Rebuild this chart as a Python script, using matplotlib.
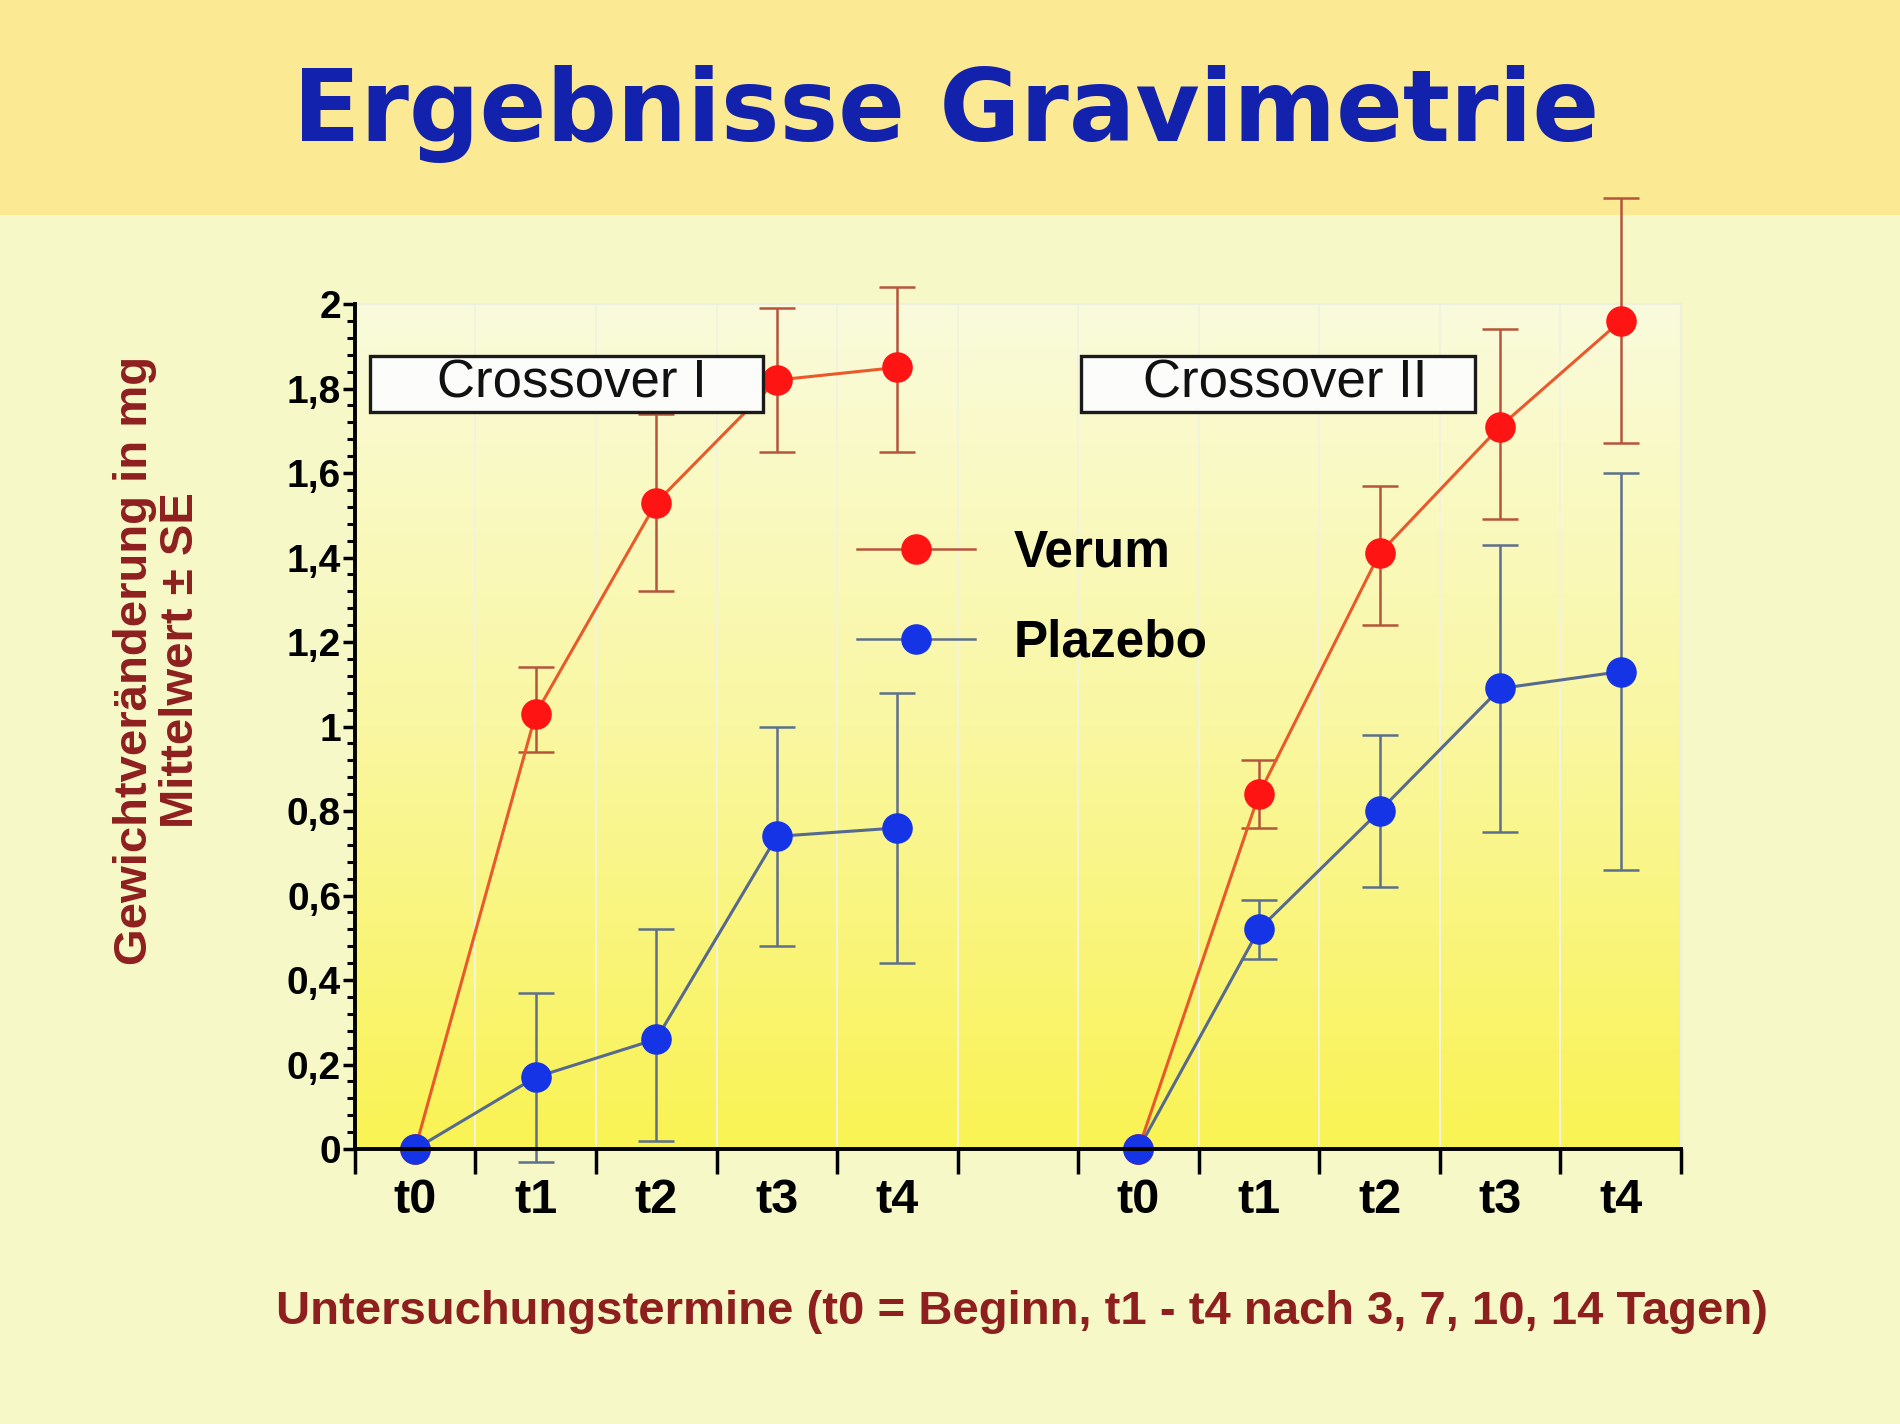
# Ergebnisse Gravimetrie - Crossover I / II
import numpy as np
import matplotlib.pyplot as plt
from matplotlib.colors import LinearSegmentedColormap
from matplotlib.lines import Line2D
from matplotlib.patches import Rectangle
from matplotlib.ticker import FixedLocator, FuncFormatter, MultipleLocator

plt.rcParams['font.family'] = ['Liberation Sans', 'DejaVu Sans']

##### Data #####
time_labels = ['t0', 't1', 't2', 't3', 't4']
pos_cross1 = np.arange(5)
pos_cross2 = np.arange(6, 11)

# Crossover I
verum1_mean = [0, 1.03, 1.53, 1.82, 1.85]
verum1_low = [0, 0.94, 1.32, 1.65, 1.65]
verum1_high = [0, 1.14, 1.74, 1.99, 2.04]
plazebo1_mean = [0, 0.17, 0.26, 0.74, 0.76]
plazebo1_low = [0, -0.03, 0.02, 0.48, 0.44]
plazebo1_high = [0, 0.37, 0.52, 1.00, 1.08]

# Crossover II
verum2_mean = [0, 0.84, 1.41, 1.71, 1.96]
verum2_low = [0, 0.76, 1.24, 1.49, 1.67]
verum2_high = [0, 0.92, 1.57, 1.94, 2.25]
plazebo2_mean = [0, 0.52, 0.80, 1.09, 1.13]
plazebo2_low = [0, 0.45, 0.62, 0.75, 0.66]
plazebo2_high = [0, 0.59, 0.98, 1.43, 1.60]

##### Styles #####
verum_line = '#e85a2c'
verum_err = '#b4553c'
verum_dot = '#ff1414'
plaz_line = '#56698e'
plaz_err = '#5d6f8c'
plaz_dot = '#1434e6'
label_red = '#8e1f1f'

fig = plt.figure(figsize=(19, 14.24), dpi=100)
fig.patch.set_facecolor('#f7f8c8')
fig.patches.append(Rectangle((0, 0.849), 1, 0.151, transform=fig.transFigure,
                             facecolor='#fbe993', edgecolor='none', zorder=-5))

fig.text(0.498, 0.920, 'Ergebnisse Gravimetrie', ha='center', va='center',
         fontsize=71, fontweight='bold', color='#1222ad', family='DejaVu Sans')

ax = fig.add_axes([0.1868, 0.1931, 0.6979, 0.5934])
ax.set_xlim(-0.5, 10.5)
ax.set_ylim(0, 2)

# gradient background, pale top -> yellow bottom
cmap = LinearSegmentedColormap.from_list('bg', ['#f9f353', '#f9f7a2', '#fafbdc'])
grad = np.linspace(0, 1, 256).reshape(-1, 1)
ax.imshow(grad, extent=[-0.5, 10.5, 0, 2], origin='lower', aspect='auto',
          cmap=cmap, zorder=0)


def draw(pos, mean, low, high, line_c, err_c, dot_c):
    mean = np.array(mean)
    yerr = [mean - np.array(low), np.array(high) - mean]
    eb = ax.errorbar(pos, mean, yerr=yerr, fmt='none', ecolor=err_c, elinewidth=1.8,
                     capsize=13, capthick=1.8, zorder=3)
    for art in list(eb.lines[1]) + list(eb.lines[2]):
        art.set_clip_on(False)
    ax.plot(pos, mean, color=line_c, lw=2.2, zorder=4, clip_on=False)
    ax.plot(pos, mean, 'o', color=dot_c, markersize=21, markeredgecolor=dot_c,
            zorder=5, clip_on=False)


draw(pos_cross1, verum1_mean, verum1_low, verum1_high, verum_line, verum_err, verum_dot)
draw(pos_cross1, plazebo1_mean, plazebo1_low, plazebo1_high, plaz_line, plaz_err, plaz_dot)
draw(pos_cross2, verum2_mean, verum2_low, verum2_high, verum_line, verum_err, verum_dot)
draw(pos_cross2, plazebo2_mean, plazebo2_low, plazebo2_high, plaz_line, plaz_err, plaz_dot)

# axes and ticks
ax.xaxis.set_major_locator(FixedLocator(np.arange(-0.5, 11, 1)))
ax.xaxis.set_major_formatter(FuncFormatter(lambda v, p: ''))
ax.xaxis.set_minor_locator(FixedLocator(np.concatenate([pos_cross1, pos_cross2])))
ax.xaxis.set_minor_formatter(FuncFormatter(
    lambda v, p: time_labels[int(round(v)) % 6] if int(round(v)) != 5 else ''))
ax.tick_params(axis='x', which='major', direction='out', length=18, width=2.5, color='black')
ax.tick_params(axis='x', which='minor', length=0, pad=21, labelsize=35)
for lab in ax.get_xticklabels(minor=True):
    lab.set_fontweight('bold')

ax.yaxis.set_major_locator(MultipleLocator(0.2))
ax.yaxis.set_minor_locator(MultipleLocator(0.04))
ax.yaxis.set_major_formatter(FuncFormatter(lambda v, p: f'{v:g}'.replace('.', ',')))
ax.tick_params(axis='y', which='major', direction='out', length=9, width=2.5,
               pad=1, labelsize=28)
ax.tick_params(axis='y', which='minor', direction='out', length=6, width=2.2)
for lab in ax.get_yticklabels():
    lab.set_fontweight('bold')

for side in ['left', 'bottom']:
    ax.spines[side].set_linewidth(2.8)
    ax.spines[side].set_color('black')
    ax.spines[side].set_zorder(6)
for side in ['top', 'right']:
    ax.spines[side].set_color('#eef0de')
    ax.spines[side].set_linewidth(1.5)

ax.grid(True, axis='x', which='major', color='#f1f3e0', lw=1.4, zorder=1)
ax.set_axisbelow(True)

# Crossover boxes
for x0, x1, txt, tx in [(-0.375, 2.886, 'Crossover I', 1.30),
                        (5.525, 8.795, 'Crossover II', 7.22)]:
    ax.add_patch(Rectangle((x0, 1.744), x1 - x0, 0.132, facecolor='#fcfcfa',
                           edgecolor='#1a1a1a', lw=2.4, zorder=7, clip_on=False))
    ax.text(tx, 1.812, txt, ha='center', va='center', fontsize=38,
            color='#111111', zorder=8)

# legend
handles = [Line2D([0], [0], color=verum_err, lw=1.8, marker='o', markersize=21,
                  markerfacecolor=verum_dot, markeredgecolor=verum_dot),
           Line2D([0], [0], color=plaz_err, lw=1.8, marker='o', markersize=21,
                  markerfacecolor=plaz_dot, markeredgecolor=plaz_dot)]
leg = fig.legend(handles, ['Verum', 'Plazebo'], loc='center left',
                 bbox_to_anchor=(0.451, 0.580), frameon=False, borderpad=0,
                 borderaxespad=0, handlelength=2.3, handletextpad=0.75,
                 labelspacing=0.8, prop={'size': 37, 'weight': 'bold'})

# axis labels
fig.text(0.083, 0.5365, 'Gewichtveränderung in mg\nMittelwert ± SE', rotation=90,
         ha='center', va='center', fontsize=34, fontweight='bold',
         color=label_red, linespacing=1.05)
fig.text(0.538, 0.0787,
         'Untersuchungstermine (t0 = Beginn, t1 - t4 nach 3, 7, 10, 14 Tagen)',
         ha='center', va='center', fontsize=34, fontweight='bold', color=label_red)

fig.savefig('out.png', dpi=100, facecolor=fig.get_facecolor())
